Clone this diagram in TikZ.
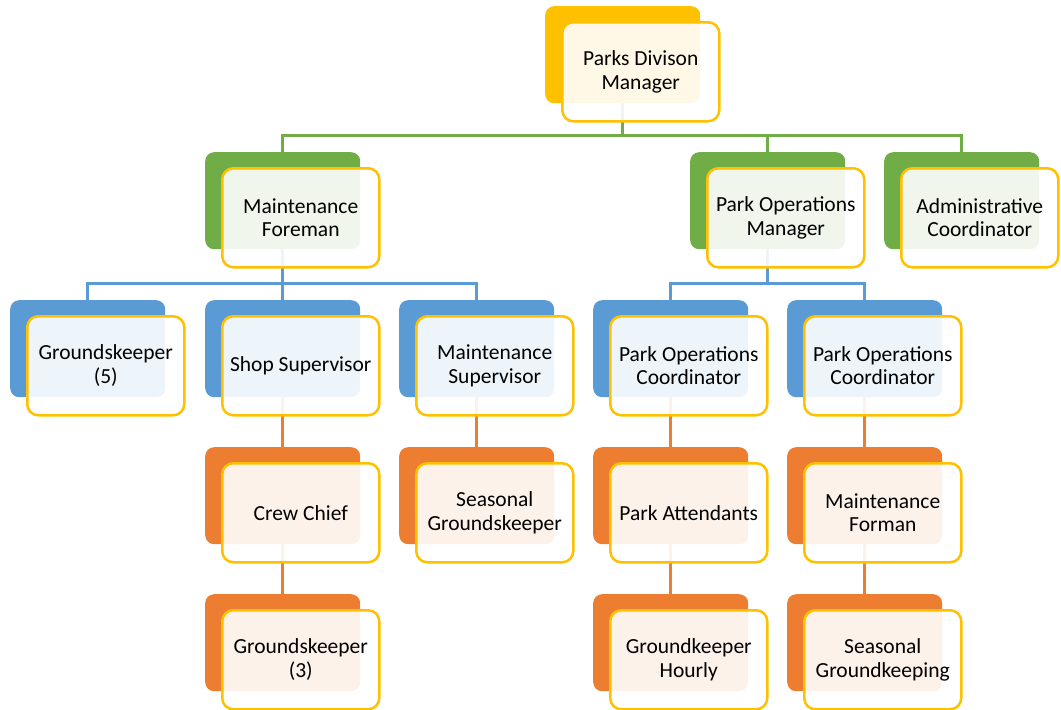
\documentclass[tikz,border=0pt]{standalone}
\usepackage{fontspec}
\setmainfont{Carlito}
\usetikzlibrary{positioning}
\pgfdeclarelayer{lines}
\pgfsetlayers{lines,main}
\definecolor{goldColor}{RGB}{255,192,0}
\definecolor{greenColor}{RGB}{112,173,71}
\definecolor{blueColor}{RGB}{91,155,213}
\definecolor{orangeColor}{RGB}{237,125,49}
\tikzstyle{chart} = [x = 1pt, y = -1pt]
\tikzstyle{backStyle} = [rectangle, rounded corners = 9pt, minimum width = 155pt, minimum height = 97pt, anchor = north west, inner sep = 0pt]
\tikzstyle{frontStyle} = [rectangle, draw = goldColor, line width = 2.5pt, rounded corners = 11pt, fill = white, fill opacity = 0.9, text opacity = 1, minimum width = 157pt, minimum height = 99pt, anchor = north west, align = center, inner sep = 0pt, font = \fontsize{21.5}{23.5}\selectfont]
\tikzstyle{linkLine} = [line width = 2.5pt]
\newcommand{\orgBox}[5]{\node [backStyle, fill = #4] (#1-b) at (#2, #3) {};
  \node [frontStyle] (#1) at (#2 + 16, #3 + 15) {#5};}
\newcommand{\busLink}[4]{\draw [linkLine, #4] (#1-b.south) -- ++(0, #3) -| (#2-b.north);}
\newcommand{\stepLink}[3]{\draw [linkLine, #3] (#1-b.south) -- (#2-b.north);}

\begin{document}
\begin{tikzpicture}[chart]
  \useasboundingbox (0,0) rectangle (1061,710);
  \orgBox{pdm}{545}{6}{goldColor}{Parks Divison\\Manager}
  \orgBox{mf}{205}{152}{greenColor}{Maintenance\\Foreman}
  \orgBox{pom}{690}{152}{greenColor}{Park Operations\\Manager}
  \orgBox{ac}{884}{152}{greenColor}{Administrative\\Coordinator}
  \orgBox{gk5}{10}{300}{blueColor}{Groundskeeper\\(5)}
  \orgBox{ss}{205}{300}{blueColor}{Shop Supervisor}
  \orgBox{ms}{399}{300}{blueColor}{Maintenance\\Supervisor}
  \orgBox{poc1}{593}{300}{blueColor}{Park Operations\\Coordinator}
  \orgBox{poc2}{787}{300}{blueColor}{Park Operations\\Coordinator}
  \orgBox{cc}{205}{447}{orangeColor}{Crew Chief}
  \orgBox{sg}{399}{447}{orangeColor}{Seasonal\\Groundskeeper}
  \orgBox{pa}{593}{447}{orangeColor}{Park Attendants}
  \orgBox{mfo}{787}{447}{orangeColor}{Maintenance\\Forman}
  \orgBox{gk3}{205}{594}{orangeColor}{Groundskeeper\\(3)}
  \orgBox{gh}{593}{594}{orangeColor}{Groundkeeper\\Hourly}
  \orgBox{sgk}{787}{594}{orangeColor}{Seasonal\\Groundkeeping}

  \begin{pgfonlayer}{lines}
    \foreach \child in {mf, pom, ac} {
      \busLink{pdm}{\child}{32}{greenColor}
    }
    \foreach \child in {gk5, ss, ms} {
      \busLink{mf}{\child}{34}{blueColor}
    }
    \foreach \child in {poc1, poc2} {
      \busLink{pom}{\child}{34}{blueColor}
    }
    \stepLink{ss}{cc}{orangeColor}
    \stepLink{cc}{gk3}{orangeColor}
    \stepLink{ms}{sg}{orangeColor}
    \stepLink{poc1}{pa}{orangeColor}
    \stepLink{pa}{gh}{orangeColor}
    \stepLink{poc2}{mfo}{orangeColor}
    \stepLink{mfo}{sgk}{orangeColor}
  \end{pgfonlayer}
\end{tikzpicture}
\end{document}
